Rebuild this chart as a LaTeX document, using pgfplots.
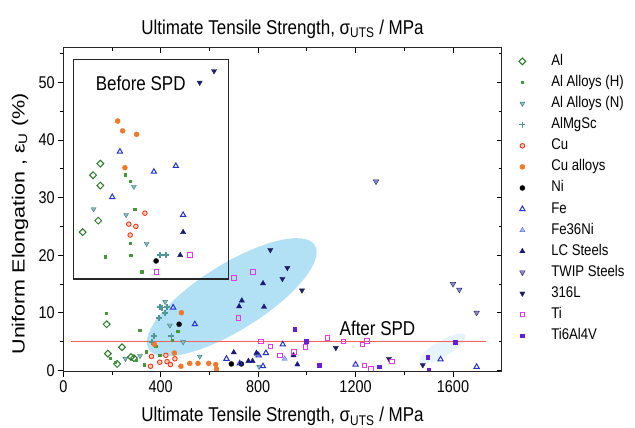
\documentclass[border=0pt]{standalone}
\usepackage{pgfplots}
\pgfplotsset{compat=1.18}
\usepackage{fontspec}
\setmainfont{Liberation Sans}[FakeStretch=0.85]
\newfontfamily\ylabfont{Liberation Sans}
\usetikzlibrary{shapes.geometric}
\definecolor{alg}{RGB}{40,120,40}
\definecolor{alh}{RGB}{70,150,60}
\definecolor{aln}{RGB}{40,120,120}
\definecolor{almg}{RGB}{80,150,150}
\definecolor{cured}{RGB}{240,60,30}
\definecolor{cufill}{RGB}{255,205,185}
\definecolor{cuall}{RGB}{240,120,40}
\definecolor{feblue}{RGB}{40,50,210}
\definecolor{fenib}{RGB}{90,110,220}
\definecolor{fenif}{RGB}{170,185,245}
\definecolor{lcnavy}{RGB}{25,25,120}
\definecolor{twip}{RGB}{30,30,100}
\definecolor{twipf}{RGB}{140,140,200}
\definecolor{tim}{RGB}{225,60,225}
\definecolor{tiv}{RGB}{100,30,220}
\definecolor{ellc}{RGB}{178,224,244}
\definecolor{ellf}{RGB}{230,245,251}
\definecolor{spdred}{RGB}{245,95,85}
\begin{document}
\begin{tikzpicture}
\begin{axis}[
  name=main,
  set layers,
  scale only axis, width=438.4pt, height=324pt,
  xmin=0, xmax=1800, ymin=-0.3, ymax=56,
  xtick={0,400,...,1600}, minor xtick={200,600,1000,1400},
  ytick={0,10,...,50}, minor ytick={5,15,...,55},
  tick align=outside, xtick pos=left, ytick pos=left,
  major tick length=5pt, minor tick length=3pt,
  every tick/.style={black, line width=0.8pt},
  axis line style={line width=1pt, black!85},
  ticklabel style={font=\fontsize{17}{20}\selectfont},
  /pgf/number format/assume math mode=true,
  /pgf/number format/1000 sep={},
  clip=false,
  legend style={at={(1.039,0.984)}, anchor=north west, draw=none, fill=none,
    inner sep=0pt, font=\fontsize{15.5}{18}\selectfont,
    nodes={inner sep=1pt, text height=11pt, text depth=3pt, anchor=west},
    row sep=5.1pt,
    /tikz/every odd column/.append style={column sep=24.5pt}},
  legend cell align=left,
]
\begin{pgfonlayer}{axis background}
\node[ellipse, fill=ellc, minimum width=196pt, minimum height=66pt, rotate=32, inner sep=0pt] at (axis cs:691.7,12.7) {};
\node[ellipse, fill=ellf, minimum width=52pt, minimum height=16pt, rotate=30, inner sep=0pt] at (axis cs:1558,3.8) {};
\end{pgfonlayer}
\fill[spdred] (axis cs:33,4.88) rectangle (axis cs:1734,5.12);
\draw[black!85, line width=1.5pt] (axis cs:41,15.9) rectangle (axis cs:679,54.0);

\addplot[only marks, mark=square, mark size=2.4pt, mark options={rotate=45, draw=alg, fill=white, line width=1pt}] coordinates {
(79.5,24.0)(122,33.9)(143.5,26.0)(152,35.9)(152,32.1)
(178,8.0)(241,4.0)(183,2.9)(221,1.1)(278,2.3)(290,2.1)};
\addlegendentry{Al}
\addplot[only marks, mark=square*, mark size=1.2pt, mark options={draw=alh, fill=alh}] coordinates {
(254,34.0)(273.5,32.9)(293,28.0)(273.5,22.1)(277.5,20.0)(172,19.7)(322.7,17.1)
(175,9.9)(314,7.0)(191.5,2.1)(212,1.4)(331,1.0)(396,2.6)(470,6.8)(446,5.2)(300,1.8)(340,3.2)(380,4.2)};
\addlegendentry{Al Alloys (H)}
\addplot[only marks, mark=triangle*, mark size=2.8pt, mark options={rotate=180, draw=aln, fill=aln!50}] coordinates {
(290,31.9)(124.6,28.0)(258,27.0)(342,22.0)
(418,11.9)(437.5,7.8)(492,4.9)(560,2.4)(804,0.6)(315,2.5)(255,2.0)};
\addlegendentry{Al Alloys (N)}
\addplot[only marks, mark=+, mark size=3pt, mark options={draw=almg, line width=1.6pt}] coordinates {
(396.5,20.0)(421,20.0)
(406,10.9)(418,10.0)(364,4.9)(444,6.0)(392,9.1)(373,6.0)(425,11)(396,11)};
\addlegendentry{AlMgSc}
\addplot[only marks, mark=*, mark size=2.3pt, mark options={draw=cured, fill=cufill, line width=0.9pt}] coordinates {
(335,27.3)(269,25.4)(298,25.0)(274.7,23.5)
(362,2.4)(358,0.7)(421,2.6)(426,1.5)(458,2.0)(396,1.4)(440,1.0)};
\addlegendentry{Cu}
\addplot[only marks, mark=*, mark size=2.5pt, mark options={draw=cuall, fill=cuall}] coordinates {
(223,43.3)(243.5,41.6)(301,41.0)(253,35.2)
(485,10.0)(519,1.2)(553,1.2)(597,1.2)(626,1.0)(629,0.2)(483,0.7)(374,4.5)(456,3.0)};
\addlegendentry{Cu alloys}
\addplot[only marks, mark=*, mark size=2.5pt, mark options={draw=black, fill=black}] coordinates {
(381,19.0)(475.6,8.0)(690,1.1)(731,1.1)};
\addlegendentry{Ni}
\addplot[only marks, mark=triangle, mark size=3pt, mark options={draw=feblue, fill=white, line width=1pt}] coordinates {
(232.5,38.0)(372,34.5)(462,35.5)(492,27.0)(201,30.1)
(451,10.9)(540,8.0)(670,2.0)(724.5,1.2)(802,2.6)(901,4.5)(832,3.0)(820,0.7)(1200,1.0)(1549,1.9)(1697,0.6)};
\addlegendentry{Fe}
\addplot[only marks, mark=triangle*, mark size=3pt, mark options={draw=fenib, fill=fenif}] coordinates {
(909,2.0)(795,2.8)};
\addlegendentry{Fe36Ni}
\addplot[only marks, mark=triangle*, mark size=3pt, mark options={draw=lcnavy, fill=lcnavy}] coordinates {
(492,24.0)(480,20.0)
(733,12.1)(722,11.1)(820,15.1)(824,11.0)(700,3.1)(760,1.6)(777,1.6)(793,3.0)(945,2.6)(961,1.0)};
\addlegendentry{LC Steels}
\addplot[only marks, mark=triangle*, mark size=3.2pt, mark options={rotate=180, draw=twip, fill=twipf}] coordinates {
(1284,32.8)(1600,15)(1626,14)(1697,10)};
\addlegendentry{TWIP Steels}
\addplot[only marks, mark=triangle*, mark size=3pt, mark options={rotate=180, draw=twip, fill=twip}] coordinates {
(560,50)(619,52)
(850,20.9)(920,17.8)(899.5,15.9)(980,13.9)(1119,3.9)(1337,2.0)(1476,0.9)};
\addlegendentry{316L}
\addplot[only marks, mark=square, mark size=2.3pt, mark options={draw=tim, fill=white, line width=1pt}] coordinates {
(520.7,20)(383,17.1)
(779,17.1)(700,16.0)(720,9.1)(811,5.0)(850,4.1)(947,3.2)(890,2.6)(995,4.0)(1084,5.6)(1150,5.0)(1229,4.5)(1248,5.1)(1237,0.8)(1264,0.2)(1350.5,1.5)};
\addlegendentry{Ti}
\addplot[only marks, mark=square*, mark size=1.8pt, mark options={draw=tiv, fill=tiv}] coordinates {
(950,7.1)(998,5.0)(1050,0.9)(1298,0.6)(1496,2.3)(1500,0.1)(1610,4.9)};
\addlegendentry{Ti6Al4V}

\node[font=\fontsize{20}{22}\selectfont] at (axis cs:318,49.9) {Before SPD};
\node[font=\fontsize{20}{22}\selectfont] at (axis cs:1290,7.2) {After SPD};
\node[anchor=base, font=\fontsize{20}{22}\selectfont] at ([yshift=13.8pt]rel axis cs:0.5,1) {Ultimate Tensile Strength, σ\textsubscript{UTS} / MPa};
\node[anchor=base, font=\fontsize{20}{22}\selectfont] at ([yshift=-50pt]rel axis cs:0.5,0) {Ultimate Tensile Strength, σ\textsubscript{UTS} / MPa};
\node[rotate=90, font=\ylabfont\fontsize{21.5}{24}\selectfont] at ([xshift=-43.3pt]rel axis cs:0,0.457) {\scalebox{1}[0.82]{Uniform Elongation , ε\textsubscript{U} (\%)}};
\end{axis}
\begin{axis}[
  scale only axis, width=438.4pt, height=324pt,
  xmin=0, xmax=1800, ymin=-0.3, ymax=56,
  xtick={0,400,...,1600}, minor xtick={200,600,1000,1400},
  ytick={0,10,...,50}, minor ytick={5,15,...,55},
  tick align=inside, xtick pos=right, ytick pos=right,
  major tick length=5pt, minor tick length=3pt,
  every tick/.style={black, line width=0.8pt},
  axis line style={line width=1pt, black!85},
  xticklabels={}, yticklabels={},
]
\end{axis}
\pgfresetboundingbox
\path (main.south west) ++(-63.3pt,-56pt) rectangle ++(635pt,428pt);
\end{tikzpicture}
\end{document}
